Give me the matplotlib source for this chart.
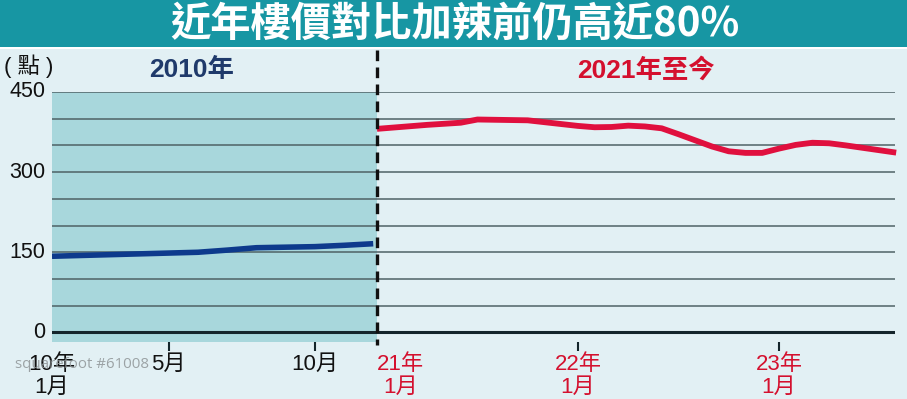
import numpy as np
import matplotlib
matplotlib.use("Agg")
import matplotlib.pyplot as plt
from matplotlib.patches import Rectangle
from matplotlib.lines import Line2D

plt.rcParams['font.family'] = ['Liberation Sans', 'Noto Sans CJK TC']

# 數據 (樓價指數, 點)
months_2010 = list(range(12))
index_2010 = [142.5, 144, 145.5, 147, 148.5, 150, 154, 158.5, 159.5, 160.5, 163, 166]

months_2021 = list(range(32))
index_2021 = [381, 383.5, 386, 388.5, 390.5, 392.5, 398.5, 398, 397.5, 397,
              393.5, 390, 386.5, 384, 384.5, 387, 385.5, 382, 371, 359.5,
              348, 339, 336, 336, 344, 351, 355, 354, 350, 345.5, 341, 336.5]

ticks_2010 = [0, 4, 9]
labels_2010 = ['10年\n1月', '5月', '10月']
ticks_2021 = [0, 12, 24]
labels_2021 = ['21年\n1月', '22年\n1月', '23年\n1月']
yticks = [0, 150, 300, 450]

title = '近年樓價對比加辣前仍高近80%'

bg = '#e2f0f4'
shade = '#a8d7dc'
banner = '#1796a3'
navy = '#1f3a6b'
red = '#d4102e'
W, H = 907, 399


def px(x, y):
    return x / W, 1 - y / H


fig = plt.figure(figsize=(W / 100, H / 100), dpi=100, facecolor=bg)

# 標題欄
fig.patches.append(Rectangle((0, 1 - 46.5 / H), 1, 46.5 / H, transform=fig.transFigure,
                             facecolor=banner, edgecolor='none', zorder=0))
fig.patches.append(Rectangle((0, 1 - 48.5 / H), 1, 2 / H, transform=fig.transFigure,
                             facecolor='white', edgecolor='none', zorder=0))
fig.text(*px(455, 24), title, color='white', fontsize=29, fontweight='bold',
         family=['Noto Sans CJK TC'], ha='center', va='center')

bottom = (H - 342) / H
height = 250 / H
ax1 = fig.add_axes([52 / W, bottom, 325 / W, height])
ax2 = fig.add_axes([377 / W, bottom, 518 / W, height])

ax1.set_facecolor(shade)
ax2.set_facecolor('none')
for ax in (ax1, ax2):
    ax.set_ylim(-18, 450)
    for s in ax.spines.values():
        s.set_visible(False)
    for g in range(50, 451, 50):
        ax.axhline(g, color='#4f6266', lw=1.1, zorder=1)
    ax.axhline(0, color='#14252b', lw=2.2, zorder=2)
    ax.set_yticks([])
    ax.tick_params(axis='x', direction='out', length=6.5, width=1.5,
                   color='#14252b', pad=2, labelsize=16)

ax1.set_xlim(0, 11.13)
ax2.set_xlim(0, 30.93)

ax1.plot(months_2010, index_2010, color='#0d3a8c', lw=4, solid_capstyle='butt', zorder=3)
ax2.plot(months_2021, index_2021, color='#e0103e', lw=4.2, solid_capstyle='butt',
         zorder=3, clip_on=False)

ax1.set_xticks(ticks_2010)
ax1.set_xticklabels(labels_2010, color='#111111', linespacing=1.1, multialignment='center')
ax1.xaxis.get_major_ticks()[0].tick1line.set_visible(False)
ax2.set_xticks(ticks_2021)
ax2.set_xticklabels(labels_2021, color=red, linespacing=1.1, multialignment='center')
ax2.xaxis.get_major_ticks()[0].tick1line.set_visible(False)
ax2.get_xticklabels()[0].set_ha('left')

for v in yticks:
    ax1.text(-7 / 325 * 11.13, v, str(v), ha='right', va='center',
             fontsize=15.5, color='#111111', clip_on=False)

# 分隔虛線
fig.add_artist(Line2D([377 / W, 377 / W], [1 - 50 / H, 1 - 345 / H], transform=fig.transFigure,
                      color='#111111', lw=2.4, ls=(0, (3.2, 1.9)), zorder=5))

fig.text(*px(29, 66), '( 點 )', fontsize=16, color='#111111', ha='center', va='center')
fig.text(*px(192, 70), '2010年', fontsize=19, fontweight='bold', color=navy,
         ha='center', va='center')
fig.text(*px(646, 70), '2021年至今', fontsize=19, fontweight='bold', color=red,
         ha='center', va='center')

fig.text(*px(15, 364), 'squarefoot #61008', fontsize=10.8, color='#8f9597', alpha=0.85,
         family=['Open Sans'], ha='left', va='center', zorder=10)

fig.savefig('out.png', dpi=100, facecolor=bg)
